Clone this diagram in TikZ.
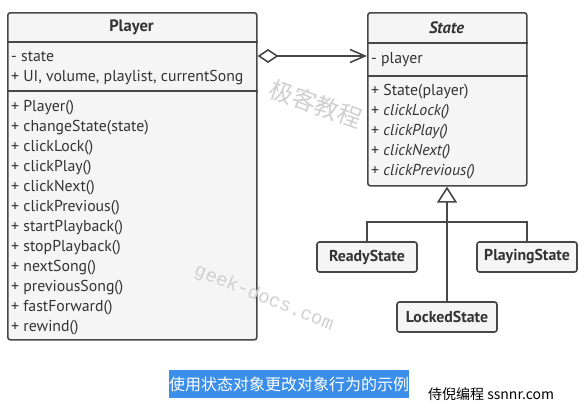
\documentclass[tikz,border=0pt]{standalone}
\usepackage{fontspec}
\setmainfont{PT Sans}
\newfontfamily\cjk{Noto Sans CJK SC}
\newfontfamily\wmono{Liberation Mono}
\usetikzlibrary{arrows.meta}
\definecolor{boxline}{RGB}{72,72,72}
\definecolor{boxfill}{RGB}{245,245,245}
\definecolor{boxtext}{RGB}{51,51,51}
\definecolor{capblue}{RGB}{59,142,234}
\definecolor{wmark}{RGB}{208,208,208}

\begin{document}
\begin{tikzpicture}[x=1pt,y=-1pt,
  classbox/.style={draw=boxline, fill=boxfill, line width=1.6pt, rounded corners=2.5pt, inner sep=0pt},
  subbox/.style={classbox, minimum width=100pt, minimum height=30pt, text=boxtext, font=\fontsize{15.8}{18}\selectfont\bfseries},
  member/.style={anchor=west, inner sep=0pt, text height=11pt, text depth=3.5pt, text=boxtext, font=\fontsize{15.8}{18}\selectfont},
  title/.style={text=boxtext, font=\fontsize{16.5}{19}\selectfont\bfseries},
  sep/.style={draw=boxline, line width=1.6pt},
  link/.style={draw=boxline, line width=1.6pt}]
\useasboundingbox[fill=white] (0,0) rectangle (585,410);

% Player class
\node[classbox, anchor=north west, minimum width=249pt, minimum height=327pt] (player) at (7,12) {};
\draw[sep] (player.west |- 0,42) -- (player.east |- 0,42);
\draw[sep] (player.west |- 0,91) -- (player.east |- 0,91);
\node[title] (playerName) at (131.5,27) {Player};
\foreach \m [count=\i] in {- state, {+ UI, volume, playlist, currentSong}}
  \node[member] (pa\i) at (11,38+20*\i) {\m};
\foreach \m [count=\i] in {+ Player(), + changeState(state), + clickLock(), + clickPlay(), + clickNext(), + clickPrevious(), + startPlayback(), + stopPlayback(), + nextSong(), + previousSong(), + fastForward(), + rewind()}
  \node[member] (pm\i) at (11,88+20*\i) {\m};

% State class
\node[classbox, anchor=north west, minimum width=159pt, minimum height=173pt] (state) at (367,12) {};
\draw[sep] (state.west |- 0,43) -- (state.east |- 0,43);
\draw[sep] (state.west |- 0,76) -- (state.east |- 0,76);
\node[title, font=\fontsize{16.5}{19}\selectfont\bfseries\itshape] (stateName) at (446.5,28) {State};
\node[member] (sa1) at (371,60) {- player};
\node[member] (sm1) at (371,92) {+ State(player)};
\foreach \m [count=\i from 2] in {clickLock(), clickPlay(), clickNext(), clickPrevious()}
  \node[member] (sm\i) at (371,72+20*\i) {+ \textit{\m}};

% concrete states
\node[subbox] (ready) at (367,257) {ReadyState};
\node[subbox] (playing) at (527,257) {PlayingState};
\node[subbox] (locked) at (447,317) {LockedState};

% connectors
\draw[link, {Diamond[open, length=21pt, width=14pt]}-{Straight Barb[length=15pt, width=13pt]}] (player.east |- 0,56) -- (state.west |- 0,56);
\coordinate (fork) at (447,222);
\draw[link] (ready.north) |- (fork) -| (playing.north);
\draw[link, -{Triangle[open, length=16pt, width=20pt]}] (locked.north) -- (locked.north |- state.south);

% caption
\node[fill=capblue, text=white, font=\cjk\fontsize{16}{18}\selectfont, minimum width=240pt, minimum height=28pt, inner sep=0pt] (caption) at (289,384) {使用状态对象更改对象行为的示例};
\node[anchor=west, inner sep=0pt, text=black, font=\cjk\fontsize{14}{16}\selectfont] (site) at (428,394) {侍倪编程 ssnnr.com};

% watermarks
\node[text=wmark, rotate=-20, font=\cjk\fontsize{24}{26}\selectfont] (wmCn) at (316,104) {极客教程};
\node[text=wmark, rotate=-22, font=\wmono\fontsize{19}{20}\selectfont] (wmEn) at (264,298) {geek-docs.com};

\end{tikzpicture}
\end{document}
